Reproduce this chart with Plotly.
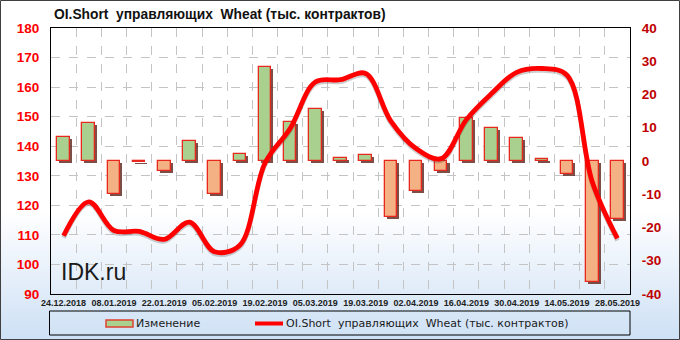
import base64
import plotly.graph_objects as go

# ---------------- data ----------------
dates = ["24.12.2018", "31.12.2018", "08.01.2019", "15.01.2019", "22.01.2019", "29.01.2019",
         "05.02.2019", "12.02.2019", "19.02.2019", "26.02.2019", "05.03.2019", "12.03.2019",
         "19.03.2019", "26.03.2019", "02.04.2019", "09.04.2019", "16.04.2019", "23.04.2019",
         "30.04.2019", "07.05.2019", "14.05.2019", "21.05.2019", "28.05.2019"]
change = [7.2, 11.4, -10.0, -0.3, -2.9, 6.1, -10.0, 2.0, 28.2, 11.7, 15.7, 1.0,
          1.8, -16.8, -9.0, -2.9, 12.9, 9.9, 7.0, 0.5, -3.9, -36.5, -17.5]
oi_short = [109.7, 121.2, 111.5, 111.2, 108.5, 114.3, 104.3, 106.5, 134.3, 146.0, 161.7, 162.5,
            164.6, 148.5, 139.2, 135.8, 149.0, 157.8, 165.0, 166.3, 164.0, 128.0, 108.8]
left_ticks = [90, 100, 110, 120, 130, 140, 150, 160, 170, 180]
right_ticks = [-40, -30, -20, -10, 0, 10, 20, 30, 40]

title_text = "OI.Short  управляющих  Wheat (тыс. контрактов)"
bar_name = "Изменение"
line_name = "OI.Short  управляющих  Wheat (тыс. контрактов)"
watermark = "IDK.ru"

# ---------------- geometry helpers ----------------
W, H = 680, 340
ML, MR, MT, MB = 51, 50, 28, 46
PW, PH = W - ML - MR, H - MT - MB


def px(xp):
    return (xp - ML) / PW


def py(yp):
    return (H - MB - yp) / PH


x = list(range(len(dates)))
bar_w = 0.5
green, orange = "#A9D08E", "#F4B183"
bar_colors = [green if v >= 0 else orange for v in change]

fig = go.Figure()

# bar shadow (same data, slightly offset)
fig.add_trace(go.Bar(
    x=x, y=change, base=[-0.6] * len(change), width=bar_w, offset=-bar_w / 2 + 0.08,
    marker=dict(color="rgba(90,35,25,0.8)", line=dict(width=0)),
    yaxis="y", showlegend=False, hoverinfo="skip"))
# bars
fig.add_trace(go.Bar(
    x=x, y=change, width=bar_w, offset=-bar_w / 2, name=bar_name,
    marker=dict(color=bar_colors, line=dict(color="#E8281E", width=1.3)),
    yaxis="y", showlegend=False))
# line shadow
fig.add_trace(go.Scatter(
    x=x, y=oi_short, mode="lines", line=dict(color="rgba(60,60,60,0.25)", width=4.5, shape="spline", smoothing=1.0),
    yaxis="y2", showlegend=False, hoverinfo="skip"))
# line
fig.add_trace(go.Scatter(
    x=x, y=oi_short, mode="lines", name=line_name,
    line=dict(color="#FF0000", width=4.8, shape="spline", smoothing=1.0),
    yaxis="y3", showlegend=False))

tick_font_l = dict(family="Liberation Sans", size=13.5, color="#FF0000", weight="bold")
tick_font_r = dict(family="Liberation Sans", size=13.5, color="#C00000", weight="bold")

# gradient background as an svg image
svg = ("<svg xmlns='http://www.w3.org/2000/svg' width='680' height='340'>"
       "<defs><linearGradient id='g' x1='0' y1='0' x2='0' y2='1'>"
       "<stop offset='0' stop-color='#ffffff'/><stop offset='0.62' stop-color='#ffffff'/>"
       "<stop offset='1' stop-color='#cde0f5'/></linearGradient></defs>"
       "<rect width='680' height='340' fill='url(#g)'/></svg>")
svg_uri = "data:image/svg+xml;base64," + base64.b64encode(svg.encode()).decode()

fig.update_layout(
    width=W, height=H,
    margin=dict(l=ML, r=MR, t=MT, b=MB),
    paper_bgcolor="white", plot_bgcolor="rgba(0,0,0,0)",
    barmode="overlay", bargap=0,
    showlegend=False,
    xaxis=dict(
        range=[-0.5, len(dates) - 0.5], tickmode="array", tickvals=x[::2], ticktext=dates[::2],
        tickfont=dict(family="Liberation Sans", size=9, color="#222222", weight="bold"),
        showgrid=False, zeroline=False, ticks="", ticklen=0,
        showline=True, linecolor="black", linewidth=1, mirror=True,
        minor=dict(tickmode="array", tickvals=[i + 0.5 for i in x[:-1]], showgrid=True,
                   gridcolor="#C4C4C4", griddash="dash", gridwidth=1, ticks=""),
    ),
    yaxis=dict(
        side="right", range=[-40, 40], tickmode="array", tickvals=right_ticks,
        ticktext=[str(v) for v in right_ticks], tickfont=tick_font_r,
        showgrid=False, zeroline=False, ticks="outside", ticklen=8, tickcolor="rgba(0,0,0,0)",
        showline=True, linecolor="black", linewidth=1, mirror=True, fixedrange=True,
    ),
    yaxis2=dict(overlaying="y", range=[90.7, 180.7], visible=False),
    yaxis3=dict(
        overlaying="y", side="left", range=[90, 180], tickmode="array", tickvals=left_ticks,
        tickfont=tick_font_l, showgrid=True, gridcolor="#C4C4C4", griddash="dash", gridwidth=1,
        zeroline=False, ticks="outside", ticklen=8, tickcolor="rgba(0,0,0,0)",
    ),
    images=[dict(source=svg_uri, xref="paper", yref="paper", x=px(0), y=py(0),
                 sizex=W / PW, sizey=H / PH, xanchor="left", yanchor="top",
                 sizing="stretch", layer="below")],
)

shapes = [
    # outer frame
    dict(type="rect", xref="paper", yref="paper", x0=px(0.5), x1=px(679.5), y0=py(339.5), y1=py(0.5),
         line=dict(color="#404040", width=1), fillcolor="rgba(0,0,0,0)", layer="above"),
    # legend box
    dict(type="rect", xref="paper", yref="paper", x0=px(49.5), x1=px(630), y0=py(335), y1=py(311),
         line=dict(color="black", width=1), fillcolor="rgba(215,230,247,0.35)"),
    # legend bar icon
    dict(type="rect", xref="paper", yref="paper", x0=px(106), x1=px(133), y0=py(327), y1=py(320),
         line=dict(color="#E04030", width=1.5), fillcolor=green),
    # legend line icon
    dict(type="line", xref="paper", yref="paper", x0=px(255), x1=px(283), y0=py(323.5), y1=py(323.5),
         line=dict(color="#FF0000", width=4)),
]
fig.update_layout(shapes=shapes)

ann_font = dict(family="DejaVu Sans", size=11, color="#1a1a1a")
fig.update_layout(annotations=[
    dict(text="<b>" + title_text + "</b>", xref="paper", yref="paper", x=px(52), y=py(14),
         xanchor="left", yanchor="middle", showarrow=False,
         font=dict(family="Liberation Sans", size=13.8, color="#111111")),
    dict(text=bar_name, xref="paper", yref="paper", x=px(134), y=py(323.5),
         xanchor="left", yanchor="middle", showarrow=False, font=ann_font),
    dict(text=line_name, xref="paper", yref="paper", x=px(284), y=py(323.5),
         xanchor="left", yanchor="middle", showarrow=False, font=ann_font),
    dict(text=watermark, xref="paper", yref="paper", x=px(59), y=py(272),
         xanchor="left", yanchor="middle", showarrow=False,
         font=dict(family="Liberation Sans", size=23, color="#1a1a1a")),
])

fig.write_html("out.html")
